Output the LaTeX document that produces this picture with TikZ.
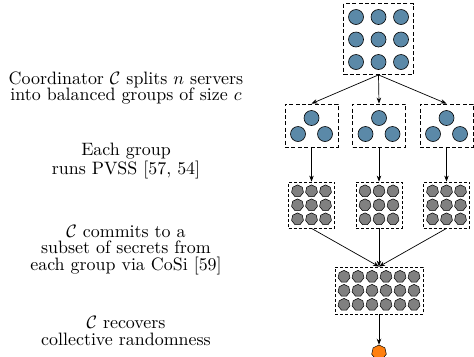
\documentclass[tikz,border=0pt]{standalone}
\usetikzlibrary{shapes.geometric,arrows.meta}
\definecolor{serverblue}{RGB}{91,137,168}
\definecolor{sharegray}{RGB}{128,128,128}
\definecolor{randorange}{RGB}{255,127,14}
\begin{document}
\begin{tikzpicture}[x=1bp,y=-1bp,
  groupbox/.style={draw,dashed,dash pattern=on 4bp off 2.4bp,line width=0.8bp,inner sep=0pt},
  sharebox/.style={draw,dash pattern=on 3bp off 2bp,line width=0.8bp,inner sep=0pt},
  server/.style={circle,draw,fill=serverblue,line width=0.6bp,minimum size=15bp,inner sep=0pt},
  share/.style={regular polygon,regular polygon sides=7,draw,fill=sharegray,line width=0.5bp,minimum size=12.2bp,inner sep=0pt},
  result/.style={regular polygon,regular polygon sides=7,draw,fill=randorange,line width=0.5bp,minimum size=15bp,inner sep=0pt},
  flow/.style={-{Stealth[length=6bp,width=4.5bp]},line width=0.7bp},
  caption/.style={align=center,font=\fontsize{10}{9.3}\selectfont,scale=1.8,transform shape,inner sep=0pt}]
\useasboundingbox (0,0) rectangle (474,356);

% all servers handled by the coordinator
\node[groupbox,minimum width=70bp,minimum height=71bp] (all) at (378.5,39) {};
\foreach \i/\x in {1/356,2/378.5,3/401}
  \foreach \j/\y in {1/17,2/39.5,3/62}
    \node[server] (s\i\j) at (\x,\y) {};

% balanced groups of size c
\foreach \g/\x in {1/311.5,2/379,3/446.5}{
  \node[groupbox,minimum width=53bp,minimum height=43bp] (g\g) at (\x,125.5) {};
  \node[server] (g\g a) at (\x,118) {};
  \node[server] (g\g b) at (\x-13.5,134) {};
  \node[server] (g\g c) at (\x+13.5,134) {};
}

% PVSS shares inside each group
\foreach \g/\x in {1/311.5,2/379,3/446.5}{
  \node[sharebox,minimum width=46bp,minimum height=46bp] (p\g) at (\x,205) {};
  \foreach \i in {-1,0,1}
    \foreach \j in {-1,0,1}
      \node[share] at (\x+14*\i,205+14*\j) {};
}

% committed subset of secrets
\node[sharebox,minimum width=88bp,minimum height=47bp] (commit) at (379,290.5) {};
\foreach \i in {-2.5,-1.5,-0.5,0.5,1.5,2.5}
  \foreach \j in {-1,0,1}
    \node[share] at (379+14*\i,290.5+14*\j) {};

% collective randomness
\node[result] (rand) at (379,352.5) {};

% connectors
\foreach \g in {1,2,3}{
  \draw[flow] (all.south) -- (g\g.north);
  \draw[flow] (g\g.south) -- (p\g.north);
  \draw[flow] (p\g.south) -- (commit.north);
}
\draw[flow] (commit.south) -- (rand.north);

% step descriptions
\node[caption] (t1) at (126,88) {Coordinator $\mathcal{C}$ splits $n$ servers\\into balanced groups of size $c$};
\node[caption] (t2) at (126,161) {Each group\\runs PVSS [57, 54]};
\node[caption] (t3) at (126,250) {$\mathcal{C}$ commits to a\\subset of secrets from\\each group via CoSi [59]};
\node[caption] (t4) at (126,331) {$\mathcal{C}$ recovers\\collective randomness};
\end{tikzpicture}
\end{document}
